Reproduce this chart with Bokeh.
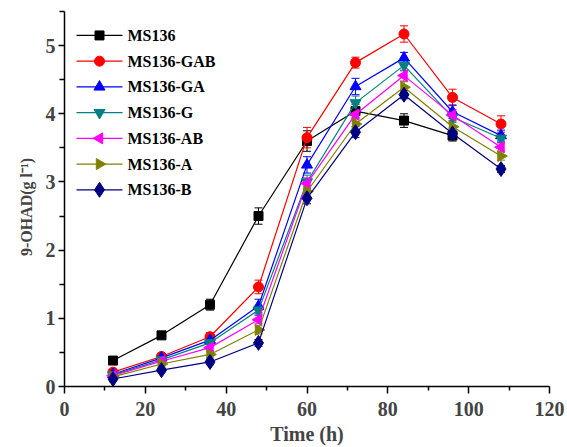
import numpy as np
from bokeh.plotting import figure
from bokeh.models import ColumnDataSource, Whisker, TeeHead, FixedTicker
from bokeh.core.properties import value
from bokeh.embed import file_html
from bokeh.resources import INLINE

time_h = [12, 24, 36, 48, 60, 72, 84, 96, 108]

series_names = ["MS136", "MS136-GAB", "MS136-GA", "MS136-G", "MS136-AB", "MS136-A", "MS136-B"]

ms136     = [0.38, 0.75, 1.20, 2.50, 3.60, 4.04, 3.90, 3.68]
ms136_gab = [0.21, 0.44, 0.73, 1.46, 3.65, 4.75, 5.17, 4.24, 3.85]
ms136_ga  = [0.18, 0.42, 0.68, 1.18, 3.25, 4.40, 4.82, 4.03, 3.68]
ms136_g   = [0.17, 0.39, 0.64, 1.12, 3.00, 4.16, 4.71, 3.95, 3.64]
ms136_ab  = [0.16, 0.37, 0.57, 0.98, 2.98, 3.99, 4.56, 3.98, 3.51]
ms136_a   = [0.14, 0.33, 0.47, 0.83, 2.86, 3.85, 4.39, 3.81, 3.38]
ms136_b   = [0.11, 0.24, 0.36, 0.64, 2.76, 3.73, 4.28, 3.71, 3.19]

err_ms136     = [0.04, 0.04, 0.08, 0.12, 0.15, 0.10, 0.10, 0.08]
err_ms136_gab = [0.04, 0.05, 0.06, 0.10, 0.15, 0.08, 0.12, 0.12, 0.12]
err_ms136_ga  = [0.03, 0.04, 0.05, 0.10, 0.12, 0.12, 0.08, 0.10, 0.08]
err_ms136_g   = [0.03, 0.04, 0.05, 0.06, 0.10, 0.10, 0.08, 0.08, 0.06]
err_ms136_ab  = [0.03, 0.04, 0.05, 0.06, 0.08, 0.08, 0.08, 0.08, 0.06]
err_ms136_a   = [0.03, 0.03, 0.04, 0.06, 0.08, 0.08, 0.08, 0.08, 0.06]
err_ms136_b   = [0.03, 0.03, 0.04, 0.05, 0.08, 0.08, 0.06, 0.08, 0.05]

values = [ms136, ms136_gab, ms136_ga, ms136_g, ms136_ab, ms136_a, ms136_b]
errors = [err_ms136, err_ms136_gab, err_ms136_ga, err_ms136_g, err_ms136_ab, err_ms136_a, err_ms136_b]
colors = ["#000000", "#FF0000", "#0000FF", "#008080", "#FF00FF", "#808000", "#000080"]
markers = ["square", "circle", "triangle", "inverted_triangle", "triangle", "triangle", "diamond"]
angles = [0, 0, 0, 0, np.pi / 2, -np.pi / 2, 0]
sizes = [9, 10, 11, 11, 11, 11, 15]

FONT = "Liberation Serif"

W, H = 567, 447
BL, BR, BT, BB = 64, 18, 11, 60
X0, X1, Y0, Y1 = 0, 120, 0, 5.5

p = figure(width=W, height=H, x_range=(X0, X1), y_range=(Y0, Y1),
           output_backend="svg", toolbar_location=None,
           min_border_left=BL, min_border_right=BR, min_border_top=BT, min_border_bottom=BB)
p.outline_line_color = None
p.xgrid.visible = False
p.ygrid.visible = False

# pixel -> data helpers for legend placement (legend is positioned in screen px from frame top-left)
fw = W - BL - BR
fh = H - BT - BB
def lx(px):
    return X0 + px / fw * (X1 - X0)
def ly(py):
    return Y1 - py / fh * (Y1 - Y0)

for i, (name, vals, errs, col, mk, ang, sz) in enumerate(
        zip(series_names, values, errors, colors, markers, angles, sizes)):
    n = len(vals)
    src = ColumnDataSource(dict(x=time_h[:n], y=vals,
                                lo=[v - e for v, e in zip(vals, errs)],
                                hi=[v + e for v, e in zip(vals, errs)]))
    w = Whisker(source=src, base="x", upper="hi", lower="lo", line_color=col, line_width=1,
                upper_head=TeeHead(size=8, line_color=col, line_width=1),
                lower_head=TeeHead(size=8, line_color=col, line_width=1))
    p.add_layout(w)
    p.line("x", "y", source=src, line_color=col, line_width=1.2)
    p.scatter("x", "y", source=src, marker=mk, angle=ang, size=sz,
              fill_color=col, line_color=col)

    # legend entry
    cy = ly(24 + 25.8 * i)
    p.line([lx(12), lx(58)], [cy, cy], line_color=col, line_width=1.2)
    p.scatter([lx(35)], [cy], marker=mk, angle=ang, size=sz, fill_color=col, line_color=col)
    p.text([lx(63)], [cy], text=[name], text_font=value(FONT), text_font_style="bold",
           text_font_size="16px", text_baseline="middle", text_align="left", text_color="black")

p.xaxis.ticker = FixedTicker(ticks=[0, 20, 40, 60, 80, 100, 120],
                             minor_ticks=[10, 30, 50, 70, 90, 110])
p.yaxis.ticker = FixedTicker(ticks=[0, 1, 2, 3, 4, 5],
                             minor_ticks=[0.5, 1.5, 2.5, 3.5, 4.5, 5.5])

for ax in (p.xaxis[0], p.yaxis[0]):
    ax.axis_line_width = 1.5
    ax.major_tick_line_width = 1.5
    ax.minor_tick_line_width = 1.5
    ax.major_tick_in = 0
    ax.minor_tick_in = 0
    ax.major_label_text_font = FONT
    ax.major_label_text_font_style = "bold"
    ax.major_label_text_font_size = "20px"
    ax.axis_label_text_font = FONT
    ax.axis_label_text_font_style = "bold"

p.xaxis.major_tick_out = 7
p.xaxis.minor_tick_out = 4
p.yaxis.major_tick_out = 6
p.yaxis.minor_tick_out = 5
p.xaxis.major_label_standoff = 8
p.yaxis.major_label_standoff = 3

p.xaxis.axis_label = "Time (h)"
p.xaxis.axis_label_text_font_size = "20px"
p.xaxis.axis_label_standoff = 4
p.yaxis.axis_label = "9-OHAD(g l\u207b\u00b9)\u00a0\u00a0\u00a0\u00a0"
p.yaxis.axis_label_text_font_size = "16px"
p.yaxis.axis_label_standoff = 8

open("out.html", "w").write(file_html(p, INLINE))
